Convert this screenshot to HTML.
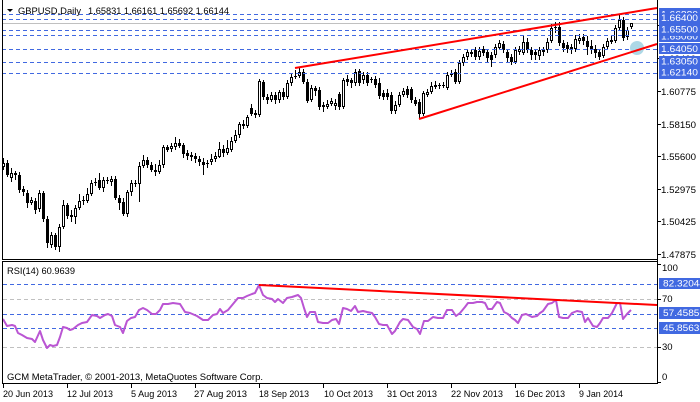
<!DOCTYPE html>
<html><head><meta charset="utf-8"><style>
html,body{margin:0;padding:0;background:#fff;}
svg{display:block;}
text{font-family:"Liberation Sans",sans-serif;font-size:9.5px;}
</style></head><body>
<svg width="700" height="402" viewBox="0 0 700 402" xmlns="http://www.w3.org/2000/svg">
<rect width="700" height="402" fill="#fff"/>
<!-- bid line -->
<line x1="2" y1="23.5" x2="657" y2="23.5" stroke="#c0c0c0"/>
<!-- candles -->
<path shape-rendering="crispEdges" stroke="#000" stroke-width="1" fill="none" d="M3.5 158V170M7.5 160V177M11.5 168V182M15.5 171V180M19.5 172V193M23.5 186V196M27.5 190V208M31.5 197V205M35.5 198V214M39.5 190V212M43.5 191V222M47.5 216V248M51.5 232V248M55.5 233V250M59.5 224V252M63.5 200V229M67.5 203V219M71.5 210V222M75.5 205V224M79.5 194V210M83.5 196V205M87.5 188V203M91.5 180V196M95.5 178V186M99.5 173V190M103.5 177V192M107.5 177V184M111.5 176V186M115.5 176V200M119.5 195V210M123.5 198V216M127.5 190V217M131.5 180V196M135.5 180V187M139.5 162V202M143.5 155V168M147.5 157V168M151.5 162V172M155.5 164V176M159.5 160V174M163.5 145V168M167.5 145V152M171.5 143V152M175.5 137V150M179.5 139V148M183.5 143V158M187.5 150V160M191.5 152V161M195.5 153V163M199.5 156V166M203.5 158V175M207.5 160V168M211.5 154V165M215.5 152V162M219.5 142V158M223.5 145V157M227.5 140V155M231.5 137V152M235.5 130V143M239.5 122V138M243.5 120V129M247.5 115V128M251.5 104V116M255.5 110V118M259.5 79V117M263.5 80V100M267.5 94V104M271.5 92V102M275.5 92V104M279.5 90V103M283.5 88V100M287.5 80V99M291.5 74V86M295.5 70V79M299.5 67V78M303.5 69V84M307.5 79V103M311.5 85V102M315.5 86V96M319.5 87V110M323.5 102V112M327.5 100V109M331.5 98V106M335.5 99V110M339.5 92V110M343.5 78V109M347.5 75V86M351.5 78V88M355.5 69V86M359.5 69V86M363.5 72V84M367.5 72V86M371.5 77V83M375.5 76V88M379.5 78V99M383.5 90V100M387.5 89V100M391.5 92V114M395.5 101V114M399.5 92V107M403.5 88V97M407.5 86V98M411.5 87V103M415.5 97V106M419.5 99V119M423.5 91V116M427.5 89V97M431.5 82V94M435.5 81V89M439.5 83V89M443.5 82V88M447.5 72V90M451.5 70V77M455.5 69V84M459.5 60V84M463.5 54V66M467.5 49V60M471.5 49V57M475.5 47V60M479.5 47V60M483.5 46V56M487.5 49V62M491.5 52V67M495.5 44V58M499.5 40V50M503.5 41V53M507.5 49V62M511.5 54V65M515.5 47V64M519.5 46V55M523.5 36V55M527.5 38V53M531.5 47V60M535.5 50V60M539.5 47V60M543.5 47V56M547.5 38V53M551.5 24V43M555.5 22V33M559.5 22V46M563.5 40V52M567.5 42V53M571.5 44V54M575.5 35V52M579.5 34V44M583.5 34V45M587.5 36V55M591.5 40V54M595.5 45V58M599.5 49V60M603.5 44V58M607.5 38V50M611.5 36V44M615.5 25V43M619.5 15V30M623.5 17V41M627.5 27V40M631.5 23V29"/>
<path shape-rendering="crispEdges" fill="#000" d="M6 163h3V175h-3zM14 173h3V175h-3zM18 175h3V190h-3zM22 189h3V192h-3zM26 193h3V203h-3zM34 201h3V210h-3zM42 193h3V219h-3zM46 219h3V243h-3zM54 235h3V247h-3zM66 205h3V216h-3zM70 215h3V217h-3zM82 200h3V201h-3zM94 182h3V183h-3zM98 180h3V188h-3zM106 180h3V181h-3zM114 179h3V198h-3zM118 198h3V203h-3zM122 202h3V214h-3zM134 183h3V184h-3zM146 160h3V165h-3zM150 165h3V170h-3zM154 170h3V172h-3zM166 147h3V150h-3zM178 143h3V146h-3zM182 145h3V154h-3zM186 153h3V156h-3zM190 155h3V157h-3zM194 156h3V159h-3zM198 159h3V162h-3zM202 162h3V165h-3zM206 163h3V164h-3zM222 149h3V153h-3zM242 124h3V126h-3zM250 108h3V114h-3zM254 113h3V115h-3zM262 82h3V97h-3zM266 97h3V100h-3zM274 95h3V100h-3zM282 92h3V97h-3zM294 76h3V77h-3zM302 72h3V82h-3zM306 82h3V101h-3zM314 88h3V91h-3zM318 90h3V107h-3zM338 94h3V107h-3zM346 79h3V82h-3zM350 80h3V83h-3zM358 71h3V83h-3zM366 75h3V83h-3zM370 79h3V80h-3zM374 79h3V85h-3zM378 83h3V96h-3zM382 93h3V97h-3zM386 93h3V97h-3zM390 95h3V111h-3zM406 89h3V95h-3zM410 89h3V100h-3zM414 100h3V104h-3zM418 102h3V114h-3zM438 85h3V86h-3zM442 85h3V86h-3zM454 72h3V82h-3zM470 52h3V54h-3zM474 50h3V57h-3zM482 49h3V53h-3zM486 52h3V58h-3zM490 55h3V60h-3zM502 44h3V50h-3zM506 52h3V58h-3zM510 57h3V62h-3zM526 42h3V50h-3zM530 50h3V55h-3zM534 52h3V55h-3zM542 50h3V52h-3zM554 27h3V28h-3zM558 27h3V43h-3zM562 43h3V48h-3zM566 45h3V49h-3zM570 47h3V50h-3zM582 37h3V41h-3zM586 41h3V47h-3zM590 46h3V50h-3zM594 49h3V53h-3zM598 52h3V57h-3zM622 20h3V38h-3z"/>
<path shape-rendering="crispEdges" fill="#fff" stroke="#000" stroke-width="1" d="M2.5 163.5h2V166.5h-2zM10.5 173.5h2V177.5h-2zM30.5 200.5h2V202.5h-2zM38.5 193.5h2V208.5h-2zM50.5 235.5h2V244.5h-2zM58.5 227.5h2V246.5h-2zM62.5 205.5h2V226.5h-2zM74.5 208.5h2V216.5h-2zM78.5 201.5h2V207.5h-2zM86.5 194.5h2V200.5h-2zM90.5 183.5h2V193.5h-2zM102.5 180.5h2V187.5h-2zM110.5 179.5h2V181.5h-2zM126.5 192.5h2V213.5h-2zM130.5 183.5h2V191.5h-2zM138.5 166.5h2V183.5h-2zM142.5 160.5h2V165.5h-2zM158.5 165.5h2V171.5h-2zM162.5 147.5h2V164.5h-2zM170.5 146.5h2V148.5h-2zM174.5 143.5h2V146.5h-2zM210.5 159.5h2V161.5h-2zM214.5 156.5h2V158.5h-2zM218.5 149.5h2V156.5h-2zM226.5 148.5h2V152.5h-2zM230.5 141.5h2V149.5h-2zM234.5 135.5h2V140.5h-2zM238.5 124.5h2V134.5h-2zM246.5 117.5h2V125.5h-2zM258.5 81.5h2V114.5h-2zM270.5 95.5h2V99.5h-2zM278.5 92.5h2V99.5h-2zM286.5 83.5h2V96.5h-2zM290.5 77.5h2V82.5h-2zM298.5 72.5h2V75.5h-2zM310.5 88.5h2V99.5h-2zM322.5 105.5h2V106.5h-2zM326.5 104.5h2V106.5h-2zM330.5 101.5h2V103.5h-2zM334.5 103.5h2V105.5h-2zM342.5 80.5h2V106.5h-2zM354.5 72.5h2V82.5h-2zM362.5 75.5h2V79.5h-2zM394.5 105.5h2V110.5h-2zM398.5 95.5h2V104.5h-2zM402.5 91.5h2V94.5h-2zM422.5 93.5h2V113.5h-2zM426.5 92.5h2V94.5h-2zM430.5 86.5h2V91.5h-2zM434.5 85.5h2V86.5h-2zM446.5 75.5h2V87.5h-2zM450.5 73.5h2V74.5h-2zM458.5 63.5h2V81.5h-2zM462.5 57.5h2V62.5h-2zM466.5 52.5h2V56.5h-2zM478.5 51.5h2V56.5h-2zM494.5 47.5h2V54.5h-2zM498.5 43.5h2V47.5h-2zM514.5 50.5h2V61.5h-2zM518.5 49.5h2V51.5h-2zM522.5 42.5h2V52.5h-2zM538.5 50.5h2V55.5h-2zM546.5 42.5h2V49.5h-2zM550.5 28.5h2V40.5h-2zM574.5 39.5h2V48.5h-2zM578.5 38.5h2V40.5h-2zM602.5 47.5h2V55.5h-2zM606.5 41.5h2V46.5h-2zM610.5 40.5h2V41.5h-2zM614.5 28.5h2V40.5h-2zM618.5 20.5h2V27.5h-2zM626.5 30.5h2V36.5h-2zM630.5 23.5h2V26.5h-2z"/>
<!-- blue dashed horizontal lines (main) -->
<g stroke="#4169e1" stroke-width="1" stroke-dasharray="4 3" shape-rendering="crispEdges">
<line x1="2" y1="14.5" x2="657" y2="14.5"/>
<line x1="2" y1="19.5" x2="657" y2="19.5"/>
<line x1="2" y1="30.5" x2="657" y2="30.5"/>
<line x1="2" y1="35.5" x2="657" y2="35.5"/>
<line x1="2" y1="49.5" x2="657" y2="49.5"/>
<line x1="2" y1="62.5" x2="657" y2="62.5"/>
<line x1="2" y1="73.5" x2="657" y2="73.5"/>
</g>
<circle cx="637" cy="48" r="7" fill="#add8e6"/>
<!-- trendlines -->
<line x1="295" y1="68" x2="657" y2="8" stroke="#ff0000" stroke-width="2"/>
<line x1="419" y1="119" x2="657" y2="44" stroke="#ff0000" stroke-width="2"/>
<!-- RSI levels -->
<g stroke-width="1" stroke-dasharray="4 3" shape-rendering="crispEdges">
<line x1="3" y1="299.5" x2="657" y2="299.5" stroke="#c0c0c0"/>
<line x1="3" y1="347.5" x2="657" y2="347.5" stroke="#c0c0c0"/>
<line x1="3" y1="284.5" x2="657" y2="284.5" stroke="#4169e1"/>
<line x1="3" y1="314.5" x2="657" y2="314.5" stroke="#4169e1"/>
<line x1="3" y1="328.5" x2="657" y2="328.5" stroke="#4169e1"/>
</g>
<polyline fill="none" stroke="#ba55d3" stroke-width="2" stroke-linejoin="round" points="3,319 7,326 12,325 15,326 18,333 22,335 27,338 32,339 35,342 40,331 43,340 47,348 50,345 53,346 57,345 60,337 63,327 67,328 70,330 73,329 78,325 82,323 87,322 92,315 97,316 100,318 105,315 108,314 112,316 115,325 120,327 123,333 127,321 131,318 135,317 139,310 143,308 147,310 152,314 156,314 160,310 163,304 168,304 173,303 180,304 185,312 190,313 197,316 203,320 208,320 213,315 217,314 220,309 223,313 228,310 233,304 238,298 243,298 247,296 252,294 255,293 259,285 263,295 267,298 272,299 275,302 278,299 283,303 287,298 292,297 298,295 301,298 304,308 307,317 310,312 315,312 318,322 323,323 328,323 332,320 336,319 339,324 343,308 347,309 351,311 355,306 358,312 363,311 367,312 372,313 375,317 379,324 383,325 387,325 392,334 395,331 400,322 403,319 408,320 413,327 417,329 420,334 424,321 428,321 433,317 438,318 443,318 447,310 452,310 456,316 460,313 465,307 468,303 473,303 477,302 482,302 485,303 488,309 492,309 497,302 500,303 504,312 508,314 512,318 515,320 518,323 522,315 526,314 532,317 537,316 540,313 543,311 548,304 552,303 556,300 559,317 563,318 568,318 572,313 577,311 582,312 585,322 588,318 593,326 597,327 600,323 603,318 608,318 612,313 617,303 620,303 623,319 627,314 631,310"/>
<line x1="259" y1="285" x2="657" y2="305" stroke="#ff0000" stroke-width="2"/>
<!-- frames -->
<g stroke="#000" stroke-width="1" shape-rendering="crispEdges" fill="none">
<line x1="2.5" y1="0" x2="2.5" y2="260"/>
<line x1="2" y1="259.5" x2="658" y2="259.5"/>
<line x1="2" y1="261.5" x2="658" y2="261.5"/>
<line x1="2.5" y1="261" x2="2.5" y2="384"/>
<line x1="2" y1="383.5" x2="658" y2="383.5"/>
<line x1="657.5" y1="0" x2="657.5" y2="384"/>
<path d="M657 91.5h4M657 124.5h4M657 156.5h4M657 189.5h4M657 221.5h4M657 254.5h4M657 58.5h4M657 25.5h4M657 264.5h4M657 299.5h4M657 347.5h4M657 382.5h4"/>
<path d="M3.5 384v4M67.5 384v4M131.5 384v4M195.5 384v4M259.5 384v4M323.5 384v4M387.5 384v4M451.5 384v4M515.5 384v4M579.5 384v4"/>
</g>
<!-- title -->
<polygon points="7,9 13,9 10,12" fill="#000"/>
<text x="18" y="14" textLength="63" lengthAdjust="spacingAndGlyphs">GBPUSD,Daily</text>
<text x="88" y="14" textLength="141" lengthAdjust="spacingAndGlyphs">1.65831 1.66161 1.65692 1.66144</text>
<!-- RSI labels -->
<text x="7" y="274" textLength="68" lengthAdjust="spacingAndGlyphs">RSI(14) 60.9639</text>
<text x="7" y="380" textLength="256" lengthAdjust="spacingAndGlyphs">GCM MetaTrader, © 2001-2013, MetaQuotes Software Corp.</text>
<!-- right axis labels -->
<g>
<text x="661" y="95" textLength="35" lengthAdjust="spacingAndGlyphs">1.60775</text>
<text x="661" y="128" textLength="35" lengthAdjust="spacingAndGlyphs">1.58150</text>
<text x="661" y="160" textLength="35" lengthAdjust="spacingAndGlyphs">1.55600</text>
<text x="661" y="193" textLength="35" lengthAdjust="spacingAndGlyphs">1.52975</text>
<text x="661" y="225" textLength="35" lengthAdjust="spacingAndGlyphs">1.50425</text>
<text x="661" y="258" textLength="35" lengthAdjust="spacingAndGlyphs">1.47875</text>
<text x="661" y="62" textLength="35" lengthAdjust="spacingAndGlyphs">1.63400</text>
<text x="662" y="271">100</text>
<text x="662" y="302">70</text>
<text x="662" y="350">30</text>
<text x="662" y="380">0</text>
</g>
<!-- blue price labels -->
<g fill="#4169e1">
<rect x="659" y="8" width="41" height="12"/>
</g>
<text x="661" y="17.5" fill="#fff" textLength="37" lengthAdjust="spacingAndGlyphs">1.66880</text>
<rect x="659" y="31" width="41" height="11" fill="#4169e1"/>
<text x="661" y="39.5" fill="#fff" textLength="37" lengthAdjust="spacingAndGlyphs">1.65080</text>
<rect x="659" y="13" width="41" height="12" fill="#4169e1"/>
<text x="661" y="21" fill="#fff" textLength="37" lengthAdjust="spacingAndGlyphs">1.66400</text>
<rect x="659" y="24" width="41" height="12" fill="#4169e1"/>
<text x="661" y="32.5" fill="#fff" textLength="37" lengthAdjust="spacingAndGlyphs">1.65500</text>
<rect x="659" y="43" width="41" height="11" fill="#4169e1"/>
<text x="661" y="52" fill="#fff" textLength="37" lengthAdjust="spacingAndGlyphs">1.64050</text>
<rect x="659" y="56" width="41" height="12" fill="#4169e1"/>
<text x="661" y="64.5" fill="#fff" textLength="37" lengthAdjust="spacingAndGlyphs">1.63050</text>
<rect x="659" y="67" width="41" height="12" fill="#4169e1"/>
<text x="661" y="75.5" fill="#fff" textLength="37" lengthAdjust="spacingAndGlyphs">1.62140</text>
<rect x="659" y="278" width="41" height="11" fill="#4169e1"/>
<text x="663" y="286.5" fill="#fff" textLength="42" lengthAdjust="spacingAndGlyphs">82.32044</text>
<rect x="659" y="307" width="41" height="12" fill="#4169e1"/>
<text x="663" y="316" fill="#fff" textLength="42" lengthAdjust="spacingAndGlyphs">57.45856</text>
<rect x="659" y="322" width="41" height="12" fill="#4169e1"/>
<text x="663" y="331" fill="#fff" textLength="42" lengthAdjust="spacingAndGlyphs">45.85635</text>
<!-- date labels -->
<g>
<text x="3" y="397" textLength="50" lengthAdjust="spacingAndGlyphs">20 Jun 2013</text>
<text x="67" y="397" textLength="46" lengthAdjust="spacingAndGlyphs">12 Jul 2013</text>
<text x="131" y="397" textLength="46" lengthAdjust="spacingAndGlyphs">5 Aug 2013</text>
<text x="194" y="397" textLength="53" lengthAdjust="spacingAndGlyphs">27 Aug 2013</text>
<text x="259" y="397" textLength="50" lengthAdjust="spacingAndGlyphs">18 Sep 2013</text>
<text x="324" y="397" textLength="49" lengthAdjust="spacingAndGlyphs">10 Oct 2013</text>
<text x="387" y="397" textLength="50" lengthAdjust="spacingAndGlyphs">31 Oct 2013</text>
<text x="451" y="397" textLength="52" lengthAdjust="spacingAndGlyphs">22 Nov 2013</text>
<text x="515" y="397" textLength="50" lengthAdjust="spacingAndGlyphs">16 Dec 2013</text>
<text x="579" y="397" textLength="44" lengthAdjust="spacingAndGlyphs">9 Jan 2014</text>
</g>
</svg>
</body></html>
